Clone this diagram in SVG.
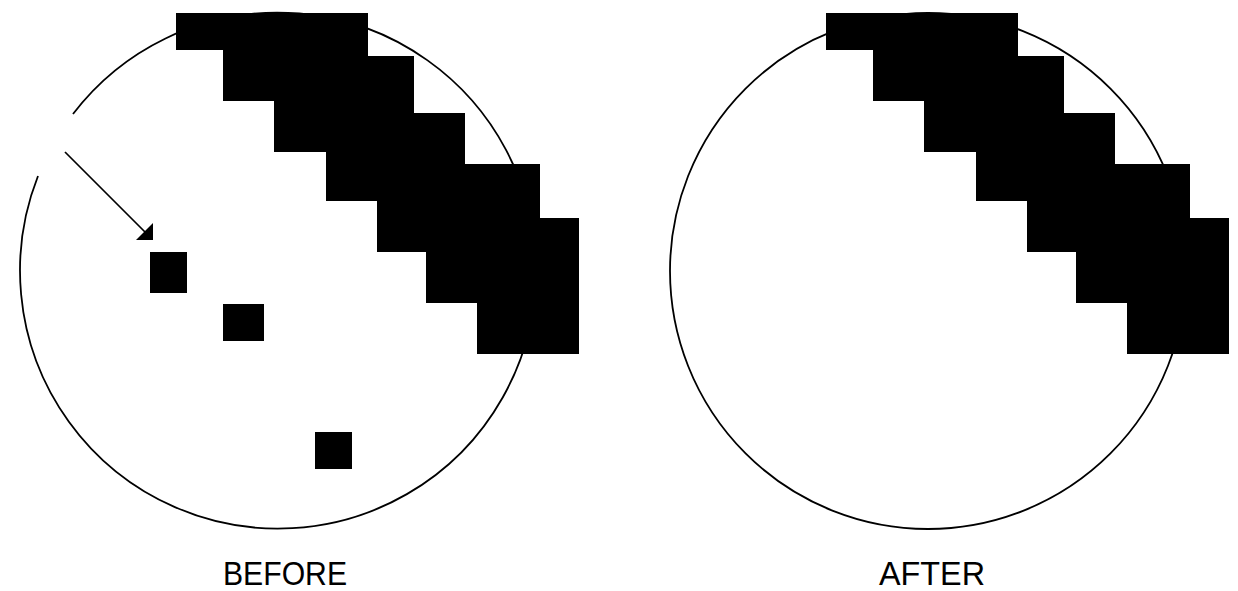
<svg xmlns="http://www.w3.org/2000/svg" width="1238" height="591" viewBox="0 0 1238 591">
  <style>
    .ring { fill: none; stroke: #000; stroke-width: 1.8; }
    .blk { fill: #000; stroke: none; }
    .lbl { font-family: "Liberation Sans", "DejaVu Sans", sans-serif; font-size: 33px; fill: #000; }
    .conn { stroke: #000; stroke-width: 1.7; fill: none; }
  </style>
  <defs>
    <path id="stairs" d="M176,13 H368 V56 H414 V113 H465 V164 H540 V218 H579 V354 H477 V303 H426 V252 H377 V201 H326 V152 H274 V101 H223 V50 H176 Z"/>
  </defs>
  <rect x="0" y="0" width="1238" height="591" fill="#fff"/>
  <g id="before">
    <path class="ring" d="M73,114 A258,258 0 1 1 38,176"/>
    <use href="#stairs" class="blk"/>
    <rect class="blk" x="150" y="252" width="37" height="41"/>
    <rect class="blk" x="223" y="304" width="41" height="37"/>
    <rect class="blk" x="315" y="432" width="37" height="37"/>
    <text class="lbl" x="223" y="585" textLength="124" lengthAdjust="spacingAndGlyphs">BEFORE</text>
  </g>
  <g id="after">
    <circle class="ring" cx="928" cy="271" r="258"/>
    <use href="#stairs" class="blk" transform="translate(650,0)"/>
    <text class="lbl" x="879" y="585" textLength="106" lengthAdjust="spacingAndGlyphs">AFTER</text>
  </g>
  <g id="connectors">
    <line class="conn" x1="65" y1="152" x2="146" y2="233"/>
    <polygon points="136,240 153,240 153,223" fill="#000"/>
  </g>
</svg>
